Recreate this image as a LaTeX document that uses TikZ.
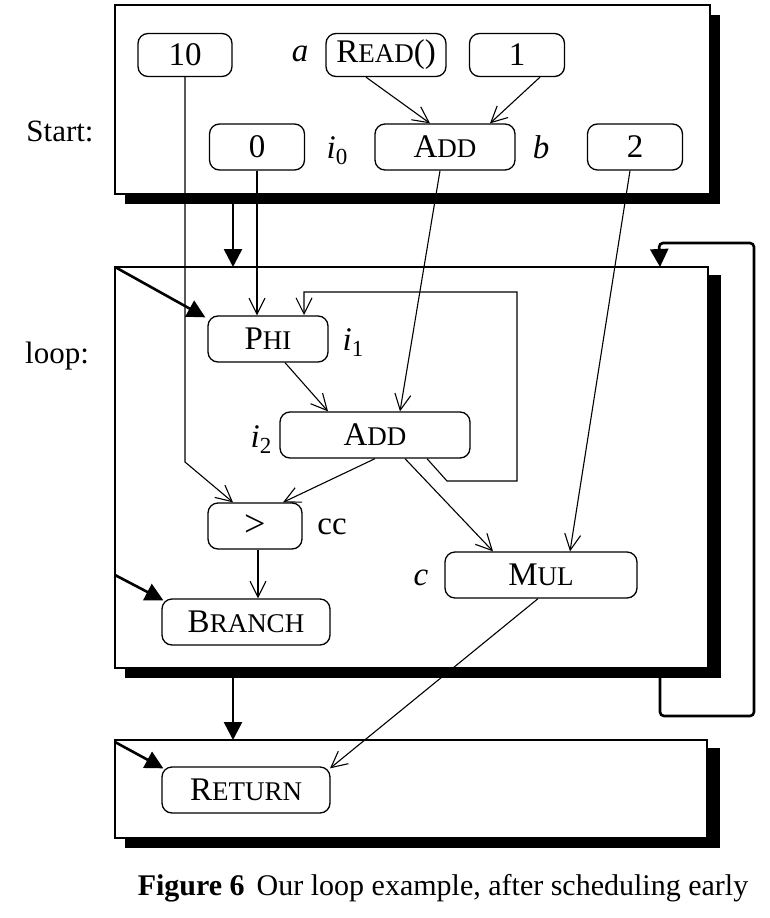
\documentclass[tikz,border=0pt]{standalone}
\usepackage{fontspec}
\setmainfont{Liberation Serif}
\usetikzlibrary{arrows.meta}
\newcommand{\fsc}[2]{#1{\fontsize{27}{30}\selectfont #2}}
\newcommand{\isub}[2]{\textit{#1}\raisebox{-6pt}{\fontsize{23}{25}\selectfont #2}}
\begin{document}
\begin{tikzpicture}[x=1pt,y=-1pt,
  every node/.style={font=\fontsize{33}{38}\selectfont, inner sep=0pt},
  opbox/.style 2 args={draw, line width=1.3pt, rounded corners=10pt, minimum width=#1, minimum height=#2},
  lbl/.style={font=\fontsize{31}{36}\selectfont},
  thin/.style={line width=1.1pt, -{Straight Barb[length=16pt,width=16pt,line width=1.1pt]}},
  flow/.style={line width=2.6pt, -{Triangle[length=18pt,width=18pt]}},
  frame/.style={line width=1.3pt, fill=white},
  shadow/.style={fill=black}]
\useasboundingbox (0,0) rectangle (770,918);
% frames
\fill[shadow] (125,15) rectangle (720,204);
\draw[frame] (115,5) rectangle (710,194);
\fill[shadow] (125,275) rectangle (721,678);
\draw[frame] (115,267) rectangle (708,668);
\fill[shadow] (125,748) rectangle (720,848);
\draw[frame] (115,740) rectangle (707,838);
\node[lbl] (lstart) at (60,131) {Start:};
\node[lbl] (lloop) at (57,356) {loop:};
% start nodes
\node[opbox={94pt}{43pt}] (n10) at (185,55) {10};
\node[opbox={120pt}{43pt}] (read) at (386,55) {\fsc{R}{EAD}()};
\node[opbox={95pt}{43pt}] (one) at (517,55) {1};
\node[opbox={95pt}{46pt}] (zero) at (257,147) {0};
\node[opbox={140pt}{46pt}] (addb) at (445,147) {\fsc{A}{DD}};
\node[opbox={95pt}{46pt}] (two) at (635,147) {2};
\node (la) at (300,54) {\textit{a}};
\node (li0) at (337,151) {\isub{i}{0}};
\node (lb) at (541,147) {\textit{b}};
% loop nodes
\node[opbox={120pt}{46pt}] (phi) at (268,339) {\fsc{P}{HI}};
\node[opbox={190pt}{46pt}] (addi) at (375,435) {\fsc{A}{DD}};
\node[opbox={94pt}{46pt}] (gt) at (255,526) {\raisebox{-2pt}{\fontsize{38}{40}\selectfont >}};
\node[opbox={192pt}{46pt}] (mul) at (541,575) {\fsc{M}{UL}};
\node[opbox={168pt}{46pt}] (branch) at (246,622) {\fsc{B}{RANCH}};
\node (li1) at (353,343) {\isub{i}{1}};
\node (li2) at (261,440) {\isub{i}{2}};
\node (lcc) at (332,527) {cc};
\node (lc) at (421,578) {\textit{c}};
% return
\node[opbox={168pt}{46pt}] (ret) at (246,790) {\fsc{R}{ETURN}};
% caption
\node[font=\fontsize{30}{34}\selectfont] (cap) at (443,888) {\textbf{Figure 6}\hspace{12pt}Our loop example, after scheduling early};
% thin edges
\draw[thin] ([xshift=-20pt]read.south) -- ([xshift=-15pt]addb.north);
\draw[thin] ([xshift=23pt]one.south) -- ([xshift=45pt]addb.north);
\draw[thin] (zero.south) -- (phi.north -| zero.south);
\draw[thin] ([xshift=-5pt]addb.south) -- ([xshift=25pt]addi.north);
\draw[thin] ([xshift=-5pt]two.south) -- ([xshift=29pt]mul.north);
\draw[thin] ([xshift=17pt]phi.south) -- ([xshift=-47pt]addi.north);
\draw[thin] (n10.south) -- (185,462) -- ([xshift=-22pt]gt.north);
\draw[thin] (addi.south) -- ([xshift=28pt]gt.north);
\draw[thin] ([xshift=30pt]addi.south) -- ([xshift=-48pt]mul.north);
\draw[thin] ([xshift=52pt]addi.south) -- (447,481) -- (517,481) -- (517,292) -- (304,292) -- (304,315);
\draw[thin] (gt.south) ++(3pt,0) coordinate (gs) -- (gs |- branch.north);
\draw[thin] ([xshift=-3pt]mul.south) -- ([xshift=84pt,yshift=-2pt]ret.north);
% flow edges
\coordinate (sA) at (233,195);
\coordinate (lA) at (233,267);
\draw[flow] (sA) -- (lA);
\coordinate (lc1) at (115,267);
\draw[flow] (lc1) -- ([xshift=-2pt,yshift=-2pt]phi.north west);
\coordinate (lc2) at (115,575);
\draw[flow] (lc2) -- ([xshift=2pt,yshift=-2pt]branch.north west);
\coordinate (lB) at (233,669);
\coordinate (rA) at (233,740);
\draw[flow] (lB) -- (rA);
\coordinate (rc1) at (115,742);
\draw[flow] (rc1) -- ([xshift=2pt,yshift=-2pt]ret.north west);
\coordinate (b0) at (660,669);
\coordinate (b1) at (660,267);
\draw[flow, rounded corners=4pt] (b0) -- (660,716) -- (754,716) -- (754,243) -- (659,243) -- (b1);
\end{tikzpicture}
\end{document}
